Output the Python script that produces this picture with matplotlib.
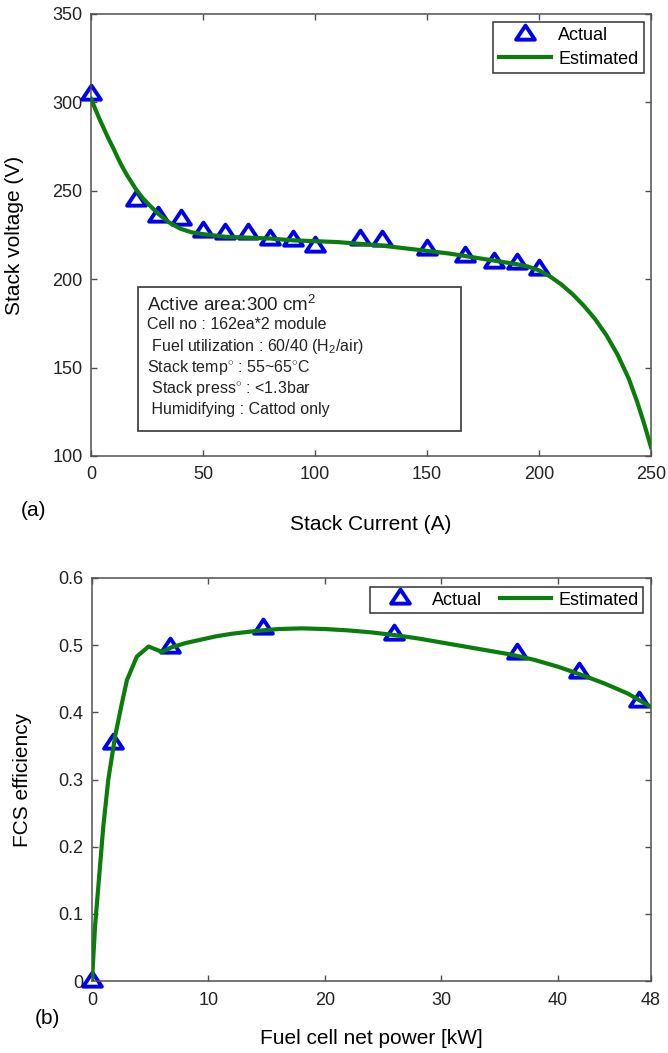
import matplotlib
matplotlib.use("Agg")
import matplotlib.pyplot as plt
from matplotlib.patches import Rectangle
from matplotlib.path import Path

plt.rcParams['font.family'] = ['Liberation Sans', 'DejaVu Sans']
plt.rcParams['mathtext.fontset'] = 'custom'
plt.rcParams['mathtext.rm'] = 'Liberation Sans'

# (a) stack polarisation data
current_actual = [0, 20, 30, 40, 50, 60, 70, 80, 90, 100, 120, 130, 150, 167, 180, 190, 200]
voltage_actual = [305, 245, 236, 234, 227, 226, 226, 223, 222, 219, 223, 222, 217, 213, 210, 209, 205.5]

current_est = [0, 2, 4, 6, 8, 10, 12, 14, 16, 18, 20, 23, 26, 30, 35, 40, 45, 50, 60, 70,
               80, 90, 100, 110, 120, 130, 140, 150, 160, 170, 180, 190, 195, 200, 205,
               210, 215, 220, 225, 230, 235, 240, 244, 247, 250]
voltage_est = [302, 296, 290, 284.5, 279, 274, 268.5, 263.5, 259, 255, 251, 246, 242, 237,
               232, 228.5, 226.5, 225.5, 224, 223.5, 223, 222, 221.5, 221, 220, 219, 217.5,
               216, 214.5, 212.5, 210.5, 208.5, 207.2, 205, 201.5, 197, 191.5, 185, 177.5,
               168.5, 157.5, 144, 130, 118, 105]

# (b) system efficiency data
power_actual = [0, 1.8, 6.7, 14.7, 25.9, 36.5, 41.8, 47]
eff_actual = [0.0, 0.354, 0.497, 0.525, 0.516, 0.488, 0.46, 0.417]

power_est = [0.0, 0.26, 0.54, 0.97, 1.4, 1.98, 2.56, 3.0, 3.85, 4.86, 6.0, 6.87, 8, 10.6,
             12, 14, 16, 18, 20, 22, 24, 26, 28, 30, 32, 34, 36, 38, 40, 42, 44, 46, 48]
eff_est = [0.0, 0.081, 0.14, 0.23, 0.30, 0.364, 0.413, 0.448, 0.483, 0.498, 0.490, 0.497,
           0.503, 0.513, 0.517, 0.521, 0.524, 0.525, 0.524, 0.522, 0.519, 0.515, 0.510,
           0.504, 0.498, 0.492, 0.486, 0.478, 0.468, 0.456, 0.443, 0.428, 0.408]

info_lines = ["Active area:300 cm$^2$",
              "Cell no : 162ea*2 module",
              " Fuel utilization : 60/40 (H$_2$/air)",
              "Stack temp$^{\\circ}$ : 55~65$^{\\circ}$C",
              " Stack press$^{\\circ}$ : <1.3bar",
              " Humidifying : Cattod only"]

blue = '#0000f0'
green = '#0b7d0b'
spine_col = '#505050'
# MATLAB-like triangle, a bit wider than tall
tri = Path([(-1, -0.55), (1, -0.55), (0, 0.95), (-1, -0.55)], closed=True)

fig = plt.figure(figsize=(6.68, 10.53), dpi=100)
ax1 = fig.add_axes([91/668, 1 - 456/1053, 560/668, 442/1053])
ax2 = fig.add_axes([92/668, 1 - 981/1053, 559/668, 403/1053])


def style(ax):
    for s in ax.spines.values():
        s.set_color(spine_col)
        s.set_linewidth(1.1)
    ax.tick_params(direction='in', top=True, right=True, length=4, width=1,
                   color=spine_col, labelsize=13, labelcolor='#222222')
    ax.tick_params(axis='y', pad=6)
    ax.tick_params(axis='x', pad=7)


# ---- (a)
ax1.plot(current_est, voltage_est, color=green, lw=3, label='Estimated', zorder=3)
ax1.plot(current_actual, voltage_actual, ls='none', marker=tri, ms=13.5, mew=2.8,
         mec=blue, mfc='white', label='Actual', zorder=2, clip_on=False)
ax1.set_xlim(0, 250)
ax1.set_ylim(100, 350)
ax1.set_xticks([0, 50, 100, 150, 200, 250])
ax1.set_yticks([100, 150, 200, 250, 300, 350])
style(ax1)
ax1.set_xlabel("Stack Current (A)", fontsize=15, va='center')
ax1.xaxis.set_label_coords(0.5, -(525 - 456) / 442)
ax1.set_ylabel("Stack voltage (V)", fontsize=15, va='center')
ax1.yaxis.set_label_coords((15 - 91) / 560, 0.5)
fig.text(33/668, 1 - 510/1053, "(a)", fontsize=15, ha='center', va='center')

h, l = ax1.get_legend_handles_labels()
leg1 = ax1.legend([h[1], h[0]], [l[1], l[0]], loc='upper right',
                  bbox_to_anchor=((644 - 91) / 560, (456 - 22) / 442), borderaxespad=0,
                  fancybox=False, framealpha=1, edgecolor='#333333', fontsize=13,
                  handlelength=2.9, handletextpad=0.4, labelspacing=0.35,
                  borderpad=0.3)
leg1.get_frame().set_linewidth(1.1)

ax1.add_patch(Rectangle(((138 - 91) / 560, (456 - 431) / 442), (461 - 138) / 560,
                        (431 - 287) / 442, transform=ax1.transAxes, fill=True,
                        facecolor='white', edgecolor='#444444', lw=1.3, zorder=4))
line_y = [305, 325, 347, 368, 389, 410]
for i, txt in enumerate(info_lines):
    ax1.text((147 - 91) / 560, (456 - line_y[i]) / 442, txt, transform=ax1.transAxes,
             fontsize=13.5 if i == 0 else 11.5, ha='left', va='center', color='#222222',
             zorder=5)

# ---- (b)
ax2.plot(power_est, eff_est, color=green, lw=3, label='Estimated', zorder=3)
ax2.plot(power_actual, eff_actual, ls='none', marker=tri, ms=13.5, mew=2.8,
         mec=blue, mfc='white', label='Actual', zorder=2, clip_on=False)
ax2.set_xlim(0, 48)
ax2.set_ylim(0, 0.6)
ax2.set_xticks([0, 10, 20, 30, 40, 48])
ax2.set_yticks([0, 0.1, 0.2, 0.3, 0.4, 0.5, 0.6])
ax2.set_yticklabels(["0", "0.1", "0.2", "0.3", "0.4", "0.5", "0.6"])
style(ax2)
ax2.tick_params(axis='x', pad=8)
ax2.set_xlabel("Fuel cell net power [kW]", fontsize=15, va='center')
ax2.xaxis.set_label_coords(0.5, -(1038 - 981) / 403)
ax2.set_ylabel("FCS efficiency", fontsize=15, va='center')
ax2.yaxis.set_label_coords((23 - 92) / 559, 0.5)
fig.text(47/668, 1 - 1018/1053, "(b)", fontsize=15, ha='center', va='center')

h, l = ax2.get_legend_handles_labels()
leg2 = ax2.legend([h[1], h[0]], [l[1], l[0]], loc='upper right', ncol=2,
                  bbox_to_anchor=((643 - 92) / 559, (981 - 587) / 403), borderaxespad=0,
                  fancybox=False, framealpha=1, edgecolor='#333333', fontsize=13,
                  handlelength=2.8, handletextpad=0.4, columnspacing=1.0,
                  borderpad=0.25)
leg2.get_frame().set_linewidth(1.1)

fig.savefig("out.png", dpi=100, facecolor='white')
